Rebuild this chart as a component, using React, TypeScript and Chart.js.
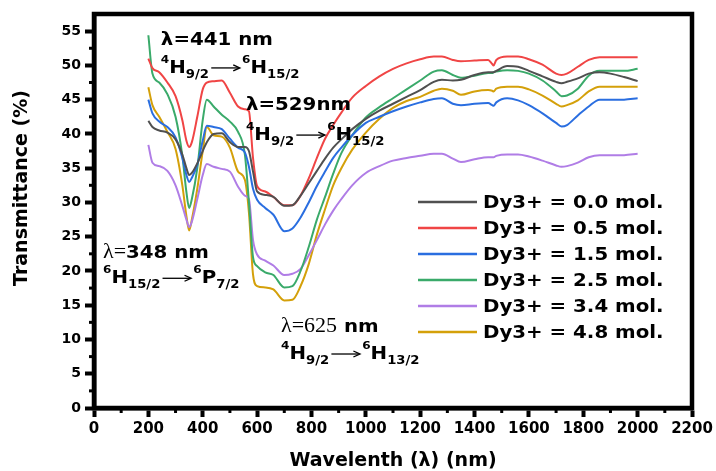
import React, { useEffect, useRef } from "react";
import { Chart, registerables } from "chart.js";

Chart.register(...registerables);

// ---------- data ----------
const wavelengths = [200, 215, 240, 270, 300, 325, 340, 350, 360, 380, 400, 415, 440, 470, 500, 530, 555, 570, 585, 600, 630, 660, 700, 730, 760, 790, 820, 850, 880, 910, 950, 1000, 1050, 1100, 1150, 1200, 1250, 1280, 1320, 1350, 1400, 1450, 1465, 1470, 1480, 1520, 1560, 1600, 1650, 1700, 1720, 1740, 1780, 1820, 1860, 1900, 1950, 2000];

const dy00 = [41.9, 41.0, 40.5, 40.2, 39.2, 37.0, 35.0, 34.0, 34.3, 35.7, 37.5, 38.8, 40.0, 40.1, 38.8, 38.1, 38.1, 37.5, 34.5, 31.6, 31.1, 30.8, 29.5, 29.6, 31.0, 32.8, 34.6, 36.4, 38.0, 39.2, 40.7, 42.2, 43.4, 44.4, 45.4, 46.4, 47.6, 47.9, 47.8, 47.9, 48.6, 49.0, 49.0, 49.0, 49.2, 49.9, 49.8, 49.2, 48.4, 47.6, 47.4, 47.6, 48.1, 48.8, 49.0, 48.8, 48.3, 47.7];
const dy05 = [51.0, 49.6, 49.0, 47.5, 45.5, 42.0, 39.0, 38.1, 38.8, 42.5, 46.5, 47.5, 47.7, 47.8, 46.0, 44.0, 43.6, 43.3, 36.5, 32.4, 31.6, 30.8, 29.6, 29.6, 31.0, 33.5, 36.5, 39.3, 41.3, 43.1, 45.3, 47.0, 48.4, 49.5, 50.3, 50.9, 51.3, 51.3, 50.8, 50.6, 50.7, 50.8, 50.2, 50.0, 50.8, 51.3, 51.3, 50.9, 50.1, 48.8, 48.6, 48.8, 49.8, 50.8, 51.2, 51.2, 51.2, 51.2];
const dy15 = [45.0, 43.0, 41.8, 41.0, 39.5, 36.5, 34.0, 33.0, 33.6, 35.5, 39.0, 41.2, 41.0, 40.7, 39.3, 38.0, 37.3, 35.2, 32.0, 30.4, 29.2, 28.2, 25.8, 26.2, 27.8, 30.0, 32.4, 34.5, 36.5, 38.0, 39.8, 41.6, 42.5, 43.3, 44.0, 44.6, 45.1, 45.2, 44.4, 44.2, 44.4, 44.5, 44.2, 44.1, 44.6, 45.2, 44.9, 44.2, 43.0, 41.6, 41.1, 41.3, 42.7, 44.0, 45.0, 45.0, 45.0, 45.2];
const dy25 = [54.4, 48.8, 47.5, 45.8, 42.5, 36.8, 31.5, 29.2, 30.5, 35.0, 42.0, 45.0, 44.0, 42.8, 41.8, 40.3, 37.0, 30.0, 22.0, 20.7, 19.8, 19.4, 17.6, 17.8, 20.0, 23.5, 27.5, 30.8, 34.2, 37.2, 39.8, 42.4, 43.9, 45.2, 46.5, 47.8, 49.1, 49.3, 48.6, 48.2, 48.5, 48.9, 48.9, 49.0, 49.1, 49.3, 49.2, 48.8, 47.8, 46.2, 45.5, 45.6, 46.6, 48.5, 49.2, 49.2, 49.2, 49.5];
const dy34 = [38.4, 35.8, 35.3, 34.6, 32.5, 29.5, 27.5, 26.4, 27.2, 30.5, 34.0, 35.6, 35.2, 34.9, 34.5, 32.3, 31.0, 30.5, 24.5, 22.4, 21.5, 20.8, 19.4, 19.6, 20.3, 22.3, 24.5, 26.8, 28.8, 30.5, 32.5, 34.3, 35.3, 36.1, 36.5, 36.8, 37.1, 37.1, 36.4, 35.9, 36.3, 36.6, 36.6, 36.6, 36.8, 37.0, 37.0, 36.7, 36.1, 35.4, 35.2, 35.3, 35.8, 36.6, 36.9, 36.9, 36.9, 37.1];
const dy48 = [46.8, 44.2, 42.5, 40.3, 37.8, 32.5, 28.0, 25.9, 27.5, 32.0, 37.5, 41.0, 39.8, 39.6, 38.0, 34.5, 33.3, 28.5, 19.5, 17.8, 17.6, 17.3, 15.7, 15.8, 17.8, 21.0, 25.3, 29.0, 32.5, 35.0, 37.7, 40.2, 42.2, 43.8, 44.8, 45.4, 46.3, 46.6, 46.3, 45.7, 46.2, 46.4, 46.3, 46.2, 46.6, 46.9, 46.9, 46.5, 45.6, 44.4, 44.0, 44.2, 44.9, 46.2, 46.9, 46.9, 46.9, 46.9];

const seriesLabels = ["Dy3+ = 0.0 mol.", "Dy3+ = 0.5 mol.", "Dy3+ = 1.5 mol.", "Dy3+ = 2.5 mol.", "Dy3+ = 3.4 mol.", "Dy3+ = 4.8 mol."];
const seriesValues = [dy00, dy05, dy15, dy25, dy34, dy48];
const seriesColors = ["#505050", "#f04545", "#2a6ee0", "#3aaa6a", "#b07de6", "#d4a00a"];

const xMin = 0, xMax = 2200, xStep = 200;
const yMin = 0, yMax = 57.5, yStep = 5;

const xTitle = "Wavelenth (λ) (nm)";
const yTitle = "Transmittance (%)";

type Seg = { t: string; k?: "n" | "sup" | "sub" | "arrow"; serif?: boolean };
const annotations: { x: number; y: number; segs: Seg[] }[] = [
  { x: 246, y: 53.0, segs: [{ t: "λ=441 nm" }] },
  { x: 246, y: 48.9, segs: [{ t: "4", k: "sup" }, { t: "H" }, { t: "9/2", k: "sub" }, { t: "", k: "arrow" }, { t: "6", k: "sup" }, { t: "H" }, { t: "15/2", k: "sub" }] },
  { x: 559, y: 43.5, segs: [{ t: "λ=529nm" }] },
  { x: 559, y: 39.1, segs: [{ t: "4", k: "sup" }, { t: "H" }, { t: "9/2", k: "sub" }, { t: "", k: "arrow" }, { t: "6", k: "sup" }, { t: "H" }, { t: "15/2", k: "sub" }] },
  { x: 33, y: 21.9, segs: [{ t: "λ=", serif: true }, { t: "348 nm" }] },
  { x: 33, y: 18.2, segs: [{ t: "6", k: "sup" }, { t: "H" }, { t: "15/2", k: "sub" }, { t: "", k: "arrow" }, { t: "6", k: "sup" }, { t: "P" }, { t: "7/2", k: "sub" }] },
  { x: 688, y: 11.1, segs: [{ t: "λ=625", serif: true }, { t: " nm" }] },
  { x: 688, y: 7.15, segs: [{ t: "4", k: "sup" }, { t: "H" }, { t: "9/2", k: "sub" }, { t: "", k: "arrow" }, { t: "6", k: "sup" }, { t: "H" }, { t: "13/2", k: "sub" }] },
];

const FONT = "'DejaVu Sans', 'Liberation Sans', sans-serif";
const STRETCH = 1.1;

function drawRich(ctx: CanvasRenderingContext2D, x: number, y: number, segs: Seg[]) {
  ctx.save();
  ctx.translate(x, y);
  ctx.scale(STRETCH, 1);
  ctx.fillStyle = "#000";
  ctx.strokeStyle = "#000";
  ctx.textBaseline = "alphabetic";
  ctx.textAlign = "left";
  let cx = 0;
  for (const s of segs) {
    const k = s.k || "n";
    if (k === "arrow") {
      const L = 26;
      ctx.lineWidth = 1.3;
      ctx.beginPath();
      ctx.moveTo(cx + 1, -5);
      ctx.lineTo(cx + L, -5);
      ctx.stroke();
      ctx.beginPath();
      ctx.moveTo(cx + L - 5, -8);
      ctx.lineTo(cx + L + 1, -5);
      ctx.lineTo(cx + L - 5, -2);
      ctx.stroke();
      cx += L + 3;
      continue;
    }
    let dy = 0;
    if (k === "sup") { ctx.font = `bold 11px ${FONT}`; dy = -10; }
    else if (k === "sub") { ctx.font = `bold 12px ${FONT}`; dy = 5; }
    else if (s.serif) { ctx.font = `20px 'Liberation Serif', serif`; }
    else { ctx.font = `bold 18px ${FONT}`; }
    ctx.fillText(s.t, cx, dy);
    cx += ctx.measureText(s.t).width + (k === "sub" ? 1 : 0);
  }
  ctx.restore();
}

const decorPlugin = {
  id: "decor",
  afterDraw(chart: any) {
    const { ctx, chartArea: a, scales } = chart;
    const xs = scales.x, ys = scales.y;
    ctx.save();
    // frame
    ctx.strokeStyle = "#000";
    ctx.lineWidth = 4.5;
    ctx.strokeRect(a.left, a.top, a.right - a.left, a.bottom - a.top);
    // minor ticks
    ctx.lineWidth = 3;
    for (let v = xMin + xStep / 2; v < xMax; v += xStep) {
      const px = xs.getPixelForValue(v);
      ctx.beginPath();
      ctx.moveTo(px, a.bottom);
      ctx.lineTo(px, a.bottom + 5);
      ctx.stroke();
    }
    for (let v = yMin + yStep / 2; v < yMax - 1; v += yStep) {
      const py = ys.getPixelForValue(v);
      ctx.beginPath();
      ctx.moveTo(a.left, py);
      ctx.lineTo(a.left - 5, py);
      ctx.stroke();
    }
    // y title
    ctx.save();
    ctx.translate(22, (a.top + a.bottom) / 2 - 23);
    ctx.rotate(-Math.PI / 2);
    ctx.font = `bold 19px ${FONT}`;
    ctx.fillStyle = "#000";
    ctx.textAlign = "center";
    ctx.textBaseline = "middle";
    ctx.fillText(yTitle, 0, 0);
    ctx.restore();
    // legend
    const lx = a.right - 274;
    const ly = a.top + 188;
    chart.data.datasets.forEach((ds: any, i: number) => {
      const y = ly + i * 26;
      ctx.strokeStyle = ds.borderColor;
      ctx.lineWidth = 2.5;
      ctx.beginPath();
      ctx.moveTo(lx, y);
      ctx.lineTo(lx + 59, y);
      ctx.stroke();
      ctx.save();
      ctx.translate(lx + 65, y);
      ctx.scale(STRETCH, 1);
      ctx.font = `bold 18px ${FONT}`;
      ctx.fillStyle = "#000";
      ctx.textAlign = "left";
      ctx.textBaseline = "middle";
      ctx.fillText(ds.label, 0, 1);
      ctx.restore();
    });
    // annotations
    for (const an of annotations) {
      drawRich(ctx, xs.getPixelForValue(an.x), ys.getPixelForValue(an.y), an.segs);
    }
    ctx.restore();
  },
};

export default function App() {
  const ref = useRef<HTMLCanvasElement>(null);
  useEffect(() => {
    if (!ref.current) return;
    const chart = new Chart(ref.current, {
      type: "line",
      data: {
        datasets: seriesValues.map((vals, i) => ({
          label: seriesLabels[i],
          data: wavelengths.map((w, j) => ({ x: w, y: vals[j] })),
          borderColor: seriesColors[i],
          backgroundColor: seriesColors[i],
          borderWidth: 2,
          pointRadius: 0,
          fill: false,
          cubicInterpolationMode: "monotone" as const,
        })),
      },
      options: {
        responsive: false,
        animation: false,
        events: [],
        layout: { padding: { top: 14, right: 24, left: 0, bottom: 0 } },
        plugins: { legend: { display: false }, tooltip: { enabled: false } },
        scales: {
          x: {
            type: "linear",
            min: xMin,
            max: xMax,
            ticks: {
              stepSize: xStep,
              includeBounds: false,
              autoSkip: false,
              maxRotation: 0,
              color: "#000",
              padding: 3,
              font: { family: FONT, weight: "bold", size: 15 },
              callback: (v: any) => String(v),
            },
            grid: { display: true, drawOnChartArea: false, drawTicks: true, tickLength: 9, tickWidth: 4, tickColor: "#000" },
            border: { display: true, color: "#000", width: 4.5 },
            title: { display: true, text: xTitle, color: "#000", padding: 0, font: { family: FONT, weight: "bold", size: 19, lineHeight: 1 } },
            afterFit: (s: any) => { s.height = 63; },
          },
          y: {
            type: "linear",
            min: yMin,
            max: yMax,
            ticks: {
              stepSize: yStep,
              includeBounds: false,
              color: "#000",
              padding: 4,
              font: { family: FONT, weight: "bold", size: 14 },
              callback: (v: any) => String(v),
            },
            grid: { display: true, drawOnChartArea: false, drawTicks: true, tickLength: 9, tickWidth: 4, tickColor: "#000" },
            border: { display: true, color: "#000", width: 4.5 },
            afterFit: (s: any) => { s.width = 94; },
          },
        },
      },
      plugins: [decorPlugin],
    } as any);
    return () => chart.destroy();
  }, []);
  return (
    <div style={{ position: "fixed", left: 0, top: 0, width: 716, height: 471, background: "#fff" }}>
      <canvas ref={ref} width={716} height={471} style={{ display: "block", width: 716, height: 471 }} />
    </div>
  );
}
